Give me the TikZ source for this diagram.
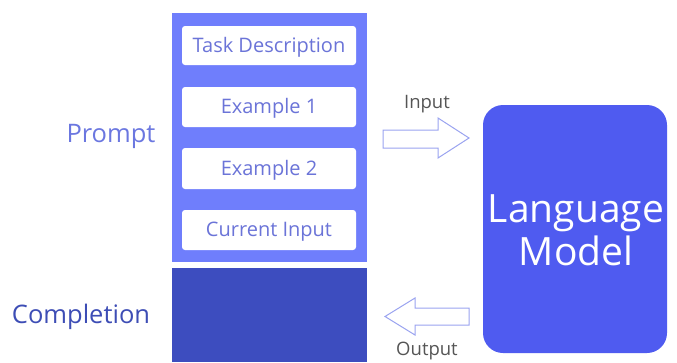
\documentclass[tikz,border=0pt]{standalone}
\usepackage{fontspec}
\setmainfont{Open Sans}
\definecolor{colprompt}{HTML}{6F7EFC}
\definecolor{colcompl}{HTML}{3D4DBF}
\definecolor{collm}{HTML}{4F5BF0}
\definecolor{boxtext}{HTML}{6B74D8}
\definecolor{promptlbl}{HTML}{6B77E0}
\definecolor{compllbl}{HTML}{3D4DB5}
\definecolor{arrowline}{HTML}{9AA3F0}
\definecolor{graylbl}{HTML}{555555}
\begin{document}
\begin{tikzpicture}[x=1pt,y=-1pt,
  inbox/.style={fill=white,rounded corners=3pt},
  intext/.style={text=boxtext,font=\fontsize{20}{24}\selectfont},
  sidelbl/.style={font=\fontsize{25.5}{30}\selectfont},
  arrowlbl/.style={text=graylbl,font=\fontsize{18.5}{22}\selectfont},
  bigarrow/.style={draw=arrowline,fill=white,line width=1pt}]
\useasboundingbox (0,0) rectangle (677,362);
\fill[colprompt] (172,13) rectangle (367,262);
\fill[colcompl] (172,268) rectangle (367,362);
\fill[inbox] (182,26) rectangle (356,65);
\node[intext] (t1) at (269,47) {Task Description};
\fill[inbox] (182,87) rectangle (356,127);
\node[intext] (t2) at (269,108.5) {Example 1};
\fill[inbox] (182,148) rectangle (356,189);
\node[intext] (t3) at (269,170) {Example 2};
\fill[inbox] (182,210) rectangle (356,250);
\node[intext] (t4) at (269,231.5) {Current Input};
\node[sidelbl,text=promptlbl] (prompt) at (111,136) {Prompt};
\node[sidelbl,text=compllbl] (compl) at (81,317) {Completion};
\fill[collm,rounded corners=20pt] (483,105) rectangle (667,353);
\node[text=white,font=\fontsize{39}{43}\selectfont,align=center] (lm) at (576,230) {Language\\Model};
% input arrow
\draw[bigarrow] (383,130) -- (438,130) -- (438,118) -- (469,138) -- (438,158) -- (438,148) -- (383,148) -- cycle;
\node[arrowlbl] (inlbl) at (427,104) {Input};
% output arrow
\draw[bigarrow] (469,308) -- (415,308) -- (415,298) -- (385,316.5) -- (415,335) -- (415,325) -- (469,325) -- cycle;
\node[arrowlbl] (outlbl) at (427,351) {Output};
\end{tikzpicture}
\end{document}
